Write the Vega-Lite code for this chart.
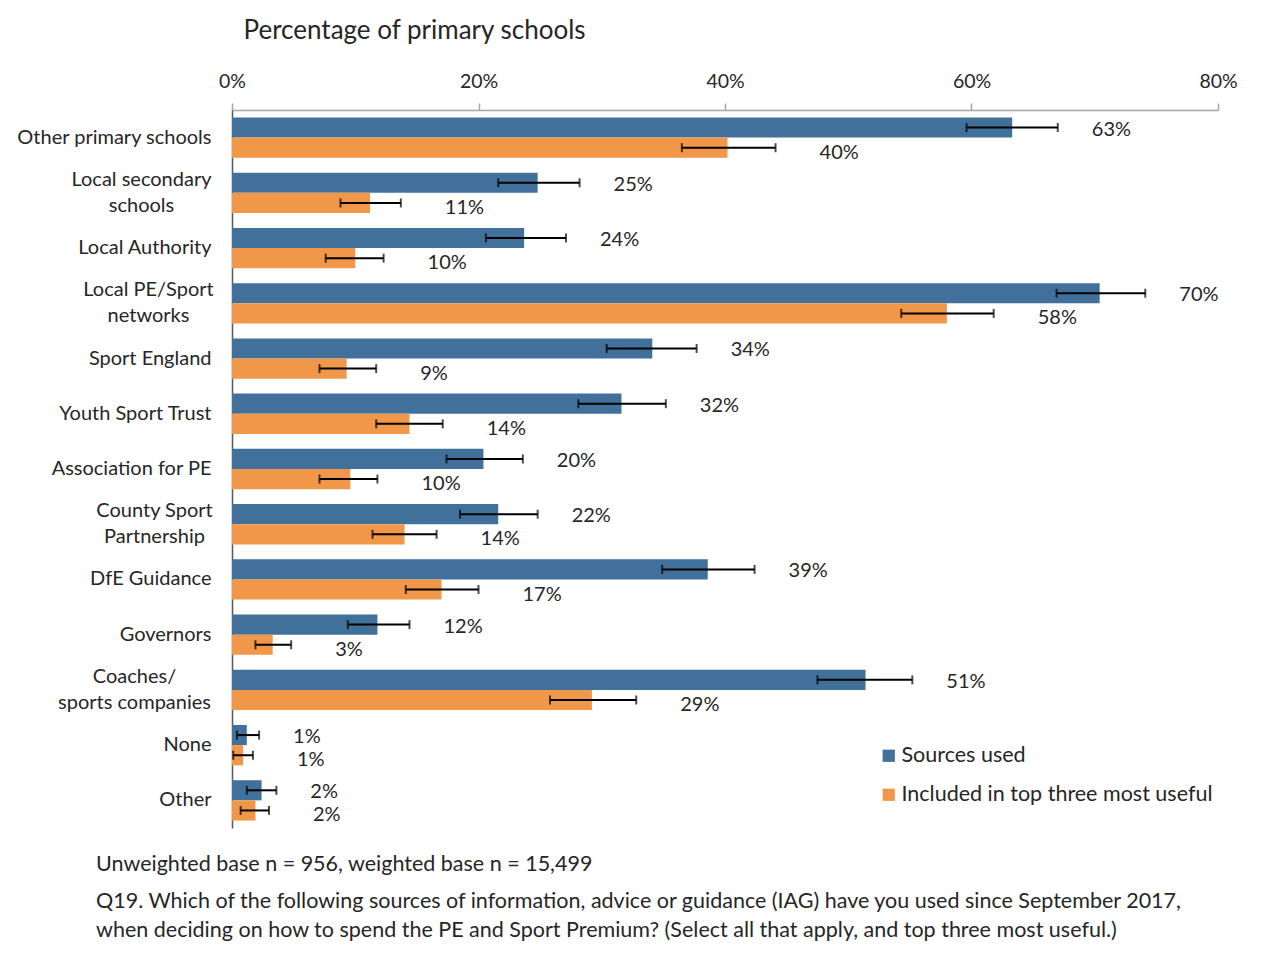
{
  "$schema": "https://vega.github.io/schema/vega-lite/v6.json",
  "width": 986,
  "height": 718,
  "autosize": "none",
  "padding": {"top": 110, "left": 232, "right": 46, "bottom": 145},
  "background": "white",
  "config": {
    "font": "Lato",
    "view": {"stroke": null},
    "text": {"font": "Lato", "fontSize": 20, "color": "#262626"}
  },
  "title": {
    "text": "Unweighted base n = 956, weighted base n = 15,499",
    "subtitle": [
      "Q19. Which of the following sources of information, advice or guidance (IAG) have you used since September 2017,",
      "when deciding on how to spend the PE and Sport Premium? (Select all that apply, and top three most useful.)"
    ],
    "orient": "bottom",
    "anchor": "start",
    "frame": "group",
    "dx": -136,
    "offset": 26,
    "font": "Lato",
    "fontSize": 21.5,
    "fontWeight": "normal",
    "color": "#262626",
    "subtitleFont": "Lato",
    "subtitleFontSize": 21.5,
    "subtitleColor": "#262626",
    "subtitlePadding": 15,
    "subtitleLineHeight": 29
  },
  "data": {
    "values": [
      {"c": "Other primary schools", "s": "Sources used", "v": 0.633, "lo": 0.596, "hi": 0.670},
      {"c": "Other primary schools", "s": "Included in top three most useful", "v": 0.402, "lo": 0.365, "hi": 0.441},
      {"c": "Local secondary schools", "s": "Sources used", "v": 0.248, "lo": 0.216, "hi": 0.282},
      {"c": "Local secondary schools", "s": "Included in top three most useful", "v": 0.112, "lo": 0.088, "hi": 0.137},
      {"c": "Local Authority", "s": "Sources used", "v": 0.237, "lo": 0.206, "hi": 0.271},
      {"c": "Local Authority", "s": "Included in top three most useful", "v": 0.100, "lo": 0.076, "hi": 0.123},
      {"c": "Local PE/Sport networks", "s": "Sources used", "v": 0.704, "lo": 0.669, "hi": 0.741},
      {"c": "Local PE/Sport networks", "s": "Included in top three most useful", "v": 0.580, "lo": 0.543, "hi": 0.618},
      {"c": "Sport England", "s": "Sources used", "v": 0.341, "lo": 0.304, "hi": 0.377},
      {"c": "Sport England", "s": "Included in top three most useful", "v": 0.093, "lo": 0.071, "hi": 0.117},
      {"c": "Youth Sport Trust", "s": "Sources used", "v": 0.316, "lo": 0.281, "hi": 0.352},
      {"c": "Youth Sport Trust", "s": "Included in top three most useful", "v": 0.144, "lo": 0.117, "hi": 0.171},
      {"c": "Association for PE", "s": "Sources used", "v": 0.204, "lo": 0.174, "hi": 0.236},
      {"c": "Association for PE", "s": "Included in top three most useful", "v": 0.096, "lo": 0.071, "hi": 0.118},
      {"c": "County Sport Partnership", "s": "Sources used", "v": 0.216, "lo": 0.185, "hi": 0.248},
      {"c": "County Sport Partnership", "s": "Included in top three most useful", "v": 0.140, "lo": 0.114, "hi": 0.166},
      {"c": "DfE Guidance", "s": "Sources used", "v": 0.386, "lo": 0.349, "hi": 0.424},
      {"c": "DfE Guidance", "s": "Included in top three most useful", "v": 0.170, "lo": 0.141, "hi": 0.200},
      {"c": "Governors", "s": "Sources used", "v": 0.118, "lo": 0.094, "hi": 0.144},
      {"c": "Governors", "s": "Included in top three most useful", "v": 0.033, "lo": 0.019, "hi": 0.048},
      {"c": "Coaches/ sports companies", "s": "Sources used", "v": 0.514, "lo": 0.475, "hi": 0.552},
      {"c": "Coaches/ sports companies", "s": "Included in top three most useful", "v": 0.292, "lo": 0.258, "hi": 0.328},
      {"c": "None", "s": "Sources used", "v": 0.012, "lo": 0.004, "hi": 0.022},
      {"c": "None", "s": "Included in top three most useful", "v": 0.009, "lo": 0.001, "hi": 0.017},
      {"c": "Other", "s": "Sources used", "v": 0.024, "lo": 0.012, "hi": 0.036},
      {"c": "Other", "s": "Included in top three most useful", "v": 0.019, "lo": 0.007, "hi": 0.030}
    ]
  },
  "encoding": {
    "y": {
      "field": "c",
      "type": "nominal",
      "sort": null,
      "scale": {"paddingInner": 0.27, "paddingOuter": 0.135},
      "axis": {
        "title": null,
        "ticks": false,
        "domainColor": "#595959",
        "domainWidth": 1.5,
        "labelFont": "Lato",
        "labelFontSize": 20,
        "labelColor": "#262626",
        "labelLineHeight": 26,
        "labelLimit": 300,
        "labelAlign": {
          "condition": {"test": "indexof(['Local secondary schools','Local PE/Sport networks','County Sport Partnership','Coaches/ sports companies'], datum.value) >= 0", "value": "center"},
          "value": "right"
        },
        "labelOffset": {
          "condition": {"test": "indexof(['Local secondary schools','Local PE/Sport networks','County Sport Partnership','Coaches/ sports companies'], datum.value) >= 0", "value": -13},
          "value": 0
        },
        "labelPadding": {
          "condition": [
            {"test": "datum.value == 'Local secondary schools'", "value": 91},
            {"test": "datum.value == 'Local PE/Sport networks'", "value": 84},
            {"test": "datum.value == 'County Sport Partnership'", "value": 78},
            {"test": "datum.value == 'Coaches/ sports companies'", "value": 98}
          ],
          "value": 21
        },
        "labelExpr": "datum.value == 'Local secondary schools' ? ['Local secondary', 'schools'] : datum.value == 'Local PE/Sport networks' ? ['Local PE/Sport', 'networks'] : datum.value == 'County Sport Partnership' ? ['County Sport', 'Partnership'] : datum.value == 'Coaches/ sports companies' ? ['Coaches/', 'sports companies'] : datum.label"
      }
    },
    "yOffset": {
      "field": "s",
      "type": "nominal",
      "sort": ["Sources used", "Included in top three most useful"],
      "scale": {"paddingInner": 0, "paddingOuter": 0}
    }
  },
  "layer": [
    {
      "mark": {"type": "bar"},
      "encoding": {
        "x": {
          "field": "v",
          "type": "quantitative",
          "scale": {"domain": [0, 0.8]},
          "axis": {
            "orient": "top",
            "values": [0, 0.2, 0.4, 0.6, 0.8],
            "format": ".0%",
            "grid": false,
            "domainColor": "#A6A6A6",
            "domainWidth": 1.5,
            "tickColor": "#A6A6A6",
            "tickWidth": 1.5,
            "tickSize": 7,
            "labelFont": "Lato",
            "labelFontSize": 19.5,
            "labelColor": "#262626",
            "labelPadding": 12,
            "labelFlush": false,
            "title": "Percentage of primary schools",
            "titleFont": "Lato",
            "titleFontSize": 26,
            "titleFontWeight": "normal",
            "titleColor": "#262626",
            "titleAnchor": "start",
            "titleAlign": "left",
            "titleBaseline": "middle",
            "titleX": 11,
            "titleY": -80
          }
        },
        "color": {
          "field": "s",
          "type": "nominal",
          "sort": ["Sources used", "Included in top three most useful"],
          "scale": {"domain": ["Sources used", "Included in top three most useful"], "range": ["#41719A", "#F0974A"]},
          "legend": {
            "orient": "none",
            "legendX": 646,
            "legendY": 635,
            "title": null,
            "symbolType": "square",
            "symbolSize": 150,
            "symbolStrokeWidth": 0,
            "labelFont": "Lato",
            "labelFontSize": 21.5,
            "labelColor": "#262626",
            "labelOffset": 2,
            "rowPadding": 16,
            "labelLimit": 400
          }
        }
      }
    },
    {
      "mark": {"type": "rule", "color": "#000000", "strokeWidth": 2},
      "encoding": {
        "x": {"field": "lo", "type": "quantitative"},
        "x2": {"field": "hi"}
      }
    },
    {
      "mark": {"type": "tick", "color": "#000000", "thickness": 2, "size": 9, "orient": "vertical"},
      "encoding": {"x": {"field": "lo", "type": "quantitative"}}
    },
    {
      "mark": {"type": "tick", "color": "#000000", "thickness": 2, "size": 9, "orient": "vertical"},
      "encoding": {"x": {"field": "hi", "type": "quantitative"}}
    },
    {
      "transform": [{"filter": "datum.s == 'Sources used'"}],
      "mark": {"type": "text", "align": "left", "baseline": "middle", "dx": 34, "dy": 2, "font": "Lato", "fontSize": 20, "color": "#262626"},
      "encoding": {
        "x": {"field": "hi", "type": "quantitative"},
        "text": {"field": "v", "type": "quantitative", "format": ".0%"}
      }
    },
    {
      "transform": [{"filter": "datum.s == 'Included in top three most useful'"}],
      "mark": {"type": "text", "align": "left", "baseline": "middle", "dx": 44, "dy": 5, "font": "Lato", "fontSize": 20, "color": "#262626"},
      "encoding": {
        "x": {"field": "hi", "type": "quantitative"},
        "text": {"field": "v", "type": "quantitative", "format": ".0%"}
      }
    }
  ]
}
